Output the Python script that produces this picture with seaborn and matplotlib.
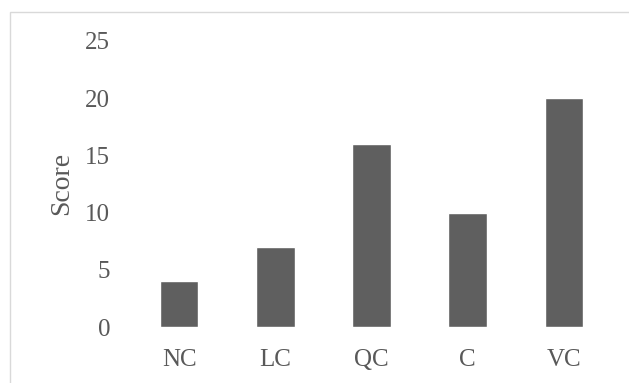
import matplotlib
matplotlib.use("Agg")
import matplotlib.pyplot as plt
import seaborn as sns
import pandas as pd
from matplotlib.patches import Rectangle

categories = ["NC", "LC", "QC", "C", "VC"]
scores = [4, 7, 16, 10, 20]
y_ticks = [0, 5, 10, 15, 20, 25]

df = pd.DataFrame({"category": categories, "score": scores})

sns.set_theme(style="white")
plt.rcParams["font.family"] = ["Liberation Serif", "DejaVu Serif"]

text_color = "#595959"
bar_color = "#5f5f5f"

fig = plt.figure(figsize=(6.29, 3.83), dpi=100)
ax = fig.add_axes([131 / 629, 1 - 327 / 383, (612 - 131) / 629, (327 - 40.8) / 383])

sns.barplot(data=df, x="category", y="score", order=categories,
            color=bar_color, saturation=1, width=0.4, ax=ax)

ax.set_ylim(0, 25)
ax.set_xlim(-0.5, len(categories) - 0.5)
ax.set_yticks(y_ticks)
ax.set_yticklabels([str(t) for t in y_ticks])
ax.tick_params(axis="y", length=0, pad=15, labelsize=18, labelcolor=text_color)
ax.tick_params(axis="x", length=0, pad=16, labelsize=18, labelcolor=text_color)
ax.set_xlabel("")
ax.set_ylabel("Score", fontsize=20, color=text_color)
ax.yaxis.set_label_coords((74 - 131) / (612 - 131), 0.5)
for s in ax.spines.values():
    s.set_visible(False)
ax.grid(False)

# light frame around the chart area
fig.patches.append(Rectangle((10 / 629, -0.1), 1.2, 1 - 11.5 / 383 + 0.1,
                             transform=fig.transFigure, fill=False,
                             edgecolor="#d9d9d9", linewidth=1.0))

fig.savefig("out.png", dpi=100)
